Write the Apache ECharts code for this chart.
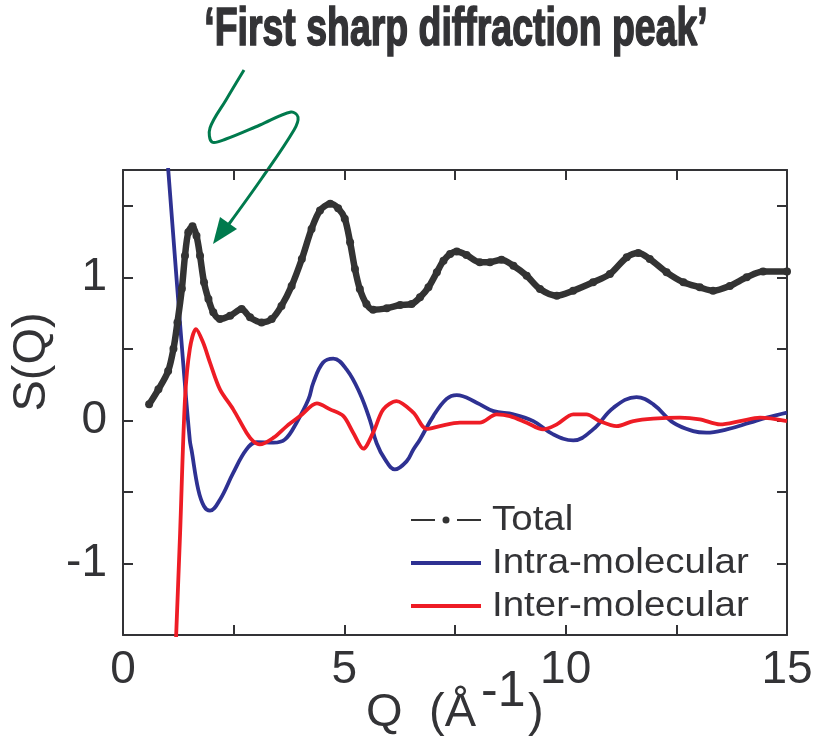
<!DOCTYPE html>
<html>
<head>
<meta charset="utf-8">
<script src="https://cdn.jsdelivr.net/npm/echarts@6/dist/echarts.min.js"></script>
<style>html,body{margin:0;padding:0;background:#fff;}#c{width:817px;height:746px;}</style>
</head>
<body>
<div id="c"></div>
<script>
// ---- data ----
var totalQ = [0.59,0.80,1.02,1.14,1.23,1.33,1.40,1.475,1.57,1.66,1.74,1.83,1.93,2.04,2.19,2.42,2.68,2.87,3.13,3.36,3.58,3.81,4.04,4.26,4.45,4.68,4.86,5.01,5.13,5.24,5.35,5.50,5.65,5.96,6.26,6.52,6.71,6.90,7.09,7.24,7.39,7.54,7.76,8.06,8.29,8.55,8.82,9.12,9.42,9.80,10.17,10.62,11.0,11.38,11.64,11.90,12.28,12.66,13.03,13.33,13.71,14.09,14.46,15.0];
var totalS = [0.112,0.217,0.345,0.50,0.685,0.92,1.15,1.315,1.357,1.29,1.15,0.965,0.848,0.755,0.708,0.731,0.778,0.72,0.685,0.708,0.80,0.94,1.128,1.338,1.467,1.514,1.483,1.41,1.245,1.058,0.918,0.813,0.773,0.783,0.806,0.813,0.86,0.93,1.035,1.116,1.163,1.18,1.156,1.105,1.105,1.123,1.081,1.011,0.918,0.871,0.906,0.965,1.023,1.14,1.17,1.128,1.035,0.965,0.93,0.906,0.94,1.0,1.04,1.04];

var intraQ = [0.98,1.02,1.21,1.36,1.51,1.55,1.70,1.83,1.965,2.19,2.49,2.79,3.02,3.40,3.66,3.92,4.19,4.30,4.52,4.75,5.05,5.35,5.58,5.73,5.92,6.14,6.41,6.56,6.71,7.01,7.31,7.54,7.99,8.37,8.82,9.27,9.72,10.17,10.62,11.08,11.60,11.98,12.43,12.88,13.18,13.64,14.16,14.54,15.0];
var intraS = [1.92,1.76,0.99,0.40,-0.14,-0.21,-0.484,-0.60,-0.631,-0.554,-0.367,-0.203,-0.152,-0.156,-0.133,-0.016,0.147,0.264,0.404,0.432,0.357,0.19,0.0,-0.16,-0.273,-0.343,-0.285,-0.203,-0.133,0.03,0.15,0.177,0.124,0.065,0.042,-0.005,-0.098,-0.14,-0.063,0.089,0.163,0.112,-0.016,-0.075,-0.086,-0.063,-0.016,0.019,0.054];

var interQ = [1.18,1.20,1.29,1.40,1.51,1.65,1.81,1.965,2.19,2.49,2.79,2.94,3.09,3.40,3.70,4.0,4.38,4.68,4.98,5.20,5.43,5.65,5.88,6.18,6.56,6.86,7.16,7.61,8.06,8.44,8.74,9.12,9.49,9.80,10.17,10.47,10.77,11.15,11.53,11.98,12.58,13.03,13.49,13.94,14.39,15.0];
var interS = [-1.7,-1.51,-0.787,0.147,0.50,0.638,0.544,0.404,0.217,0.077,-0.086,-0.145,-0.168,-0.121,-0.04,0.03,0.119,0.077,0.03,-0.086,-0.198,-0.086,0.077,0.135,0.054,-0.06,-0.04,-0.016,-0.016,0.042,0.03,-0.016,-0.063,-0.028,0.042,0.042,-0.005,-0.04,-0.005,0.012,0.019,0.007,-0.028,-0.005,0.019,-0.005];

var seriesNames = ['Total','Intra-molecular','Inter-molecular'];
var seriesColors = ['#333333','#2e3192','#ee1c25'];
var xLabelValues = [0,5,10,15];
var yLabelValues = [-1,0,1];
var yTickValues = [-1.5,-1,-0.5,0,0.5,1,1.5];

function pairs(a,b){ var r=[]; for(var i=0;i<a.length;i++) r.push([a[i],b[i]]); return r; }

var TXT = '#333336';
var FONT = 'Liberation Sans, Arial, sans-serif';
var chart = echarts.init(document.getElementById('c'), null, {renderer:'canvas'});

function axLine(){ return {show:true, onZero:false, lineStyle:{color:TXT, width:2}}; }
function tk(extra){ var t={show:true, inside:true, length:10, lineStyle:{color:TXT, width:2}}; if(extra) for(var k in extra) t[k]=extra[k]; return t; }

// legend drawn as graphics
var legendTop = 520, legendStep = 43;
var legendGraphics = [];
legendGraphics.push({type:'line', shape:{x1:411,y1:legendTop,x2:435,y2:legendTop}, style:{stroke:seriesColors[0], lineWidth:2}});
legendGraphics.push({type:'circle', shape:{cx:446,cy:legendTop,r:3.5}, style:{fill:seriesColors[0]}});
legendGraphics.push({type:'line', shape:{x1:457,y1:legendTop,x2:481,y2:legendTop}, style:{stroke:seriesColors[0], lineWidth:2}});
for (var i=1;i<3;i++){
  legendGraphics.push({type:'line', shape:{x1:411,y1:legendTop+legendStep*i,x2:481,y2:legendTop+legendStep*i}, style:{stroke:seriesColors[i], lineWidth:4}});
}
for (var j=0;j<3;j++){
  legendGraphics.push({type:'text', x:492, y:legendTop+legendStep*j, scaleX:1.1, style:{text:seriesNames[j], fill:TXT,
    font:'35px Liberation Sans, Arial, sans-serif', textAlign:'left', textVerticalAlign:'middle'}});
}

chart.setOption({
  animation:false,
  backgroundColor:'#fff',
  grid:{left:123, top:170, right:30, bottom:111, containLabel:false},
  xAxis:[
    {type:'value', min:0, max:15, interval:2.5, position:'bottom',
     axisLine:axLine(), axisTick:tk(), splitLine:{show:false},
     axisLabel:{show:true, customValues:xLabelValues, margin:12, color:TXT, fontSize:46, fontFamily:FONT}},
    {type:'value', min:0, max:15, interval:2.5, position:'top',
     axisLine:axLine(), axisTick:tk(), splitLine:{show:false}, axisLabel:{show:false}}
  ],
  yAxis:[
    {type:'value', min:-1.5, max:1.75, position:'left',
     axisLine:axLine(), axisTick:tk({customValues:yTickValues}), splitLine:{show:false},
     axisLabel:{show:true, customValues:yLabelValues, margin:16, color:TXT, fontSize:46, fontFamily:FONT}},
    {type:'value', min:-1.5, max:1.75, position:'right',
     axisLine:axLine(), axisTick:tk({customValues:yTickValues}), splitLine:{show:false},
     axisLabel:{show:false}}
  ],
  series:[
    {name:seriesNames[0], type:'line', data:pairs(totalQ,totalS), smooth:0.3,
     symbol:'circle', symbolSize:8, showAllSymbol:true,
     itemStyle:{color:seriesColors[0]}, lineStyle:{color:seriesColors[0], width:6.5}, z:3},
    {name:seriesNames[1], type:'line', data:pairs(intraQ,intraS), smooth:0.4, symbol:'none',
     itemStyle:{color:seriesColors[1]}, lineStyle:{color:seriesColors[1], width:3.8}, z:2},
    {name:seriesNames[2], type:'line', data:pairs(interQ,interS), smooth:0.3, symbol:'none',
     itemStyle:{color:seriesColors[2]}, lineStyle:{color:seriesColors[2], width:3.8}, z:2}
  ],
  graphic:[
    {type:'text', x:456, y:30, scaleX:0.72, scaleY:1.03, style:{text:'\u2018First sharp diffraction peak\u2019', fill:TXT,
      stroke:TXT, lineWidth:1.6,
      font:'bold 52px Liberation Sans, Arial, sans-serif', textAlign:'center', textVerticalAlign:'middle'}},
    {type:'text', x:32, y:362, rotation:Math.PI/2, style:{text:'S(Q)', fill:TXT,
      font:'47px Liberation Sans, Arial, sans-serif', textAlign:'center', textVerticalAlign:'middle'}},
    {type:'text', x:366, y:713, style:{text:'Q', fill:TXT, font:'47px Liberation Sans, Arial, sans-serif', textAlign:'left', textVerticalAlign:'middle'}},
    {type:'text', x:429, y:713, style:{text:'(\u00C5', fill:TXT, font:'47px Liberation Sans, Arial, sans-serif', textAlign:'left', textVerticalAlign:'middle'}},
    {type:'text', x:481, y:692, style:{text:'-1', fill:TXT, font:'50px Liberation Sans, Arial, sans-serif', textAlign:'left', textVerticalAlign:'middle'}},
    {type:'text', x:528, y:713, style:{text:')', fill:TXT, font:'47px Liberation Sans, Arial, sans-serif', textAlign:'left', textVerticalAlign:'middle'}},
    {type:'polyline', shape:{points:[[244,70],[226,100],[210,128],[212,142],[226,139],[260,125],[291,112],[298,117],[294,130],[262,178],[229,224]], smooth:0.35},
      style:{stroke:'#007a4d', lineWidth:3, fill:null}},
    {type:'polygon', shape:{points:[[213,244],[220,217],[237,229]]}, style:{fill:'#007a4d'}}
  ].concat(legendGraphics)
});
</script>
</body>
</html>
